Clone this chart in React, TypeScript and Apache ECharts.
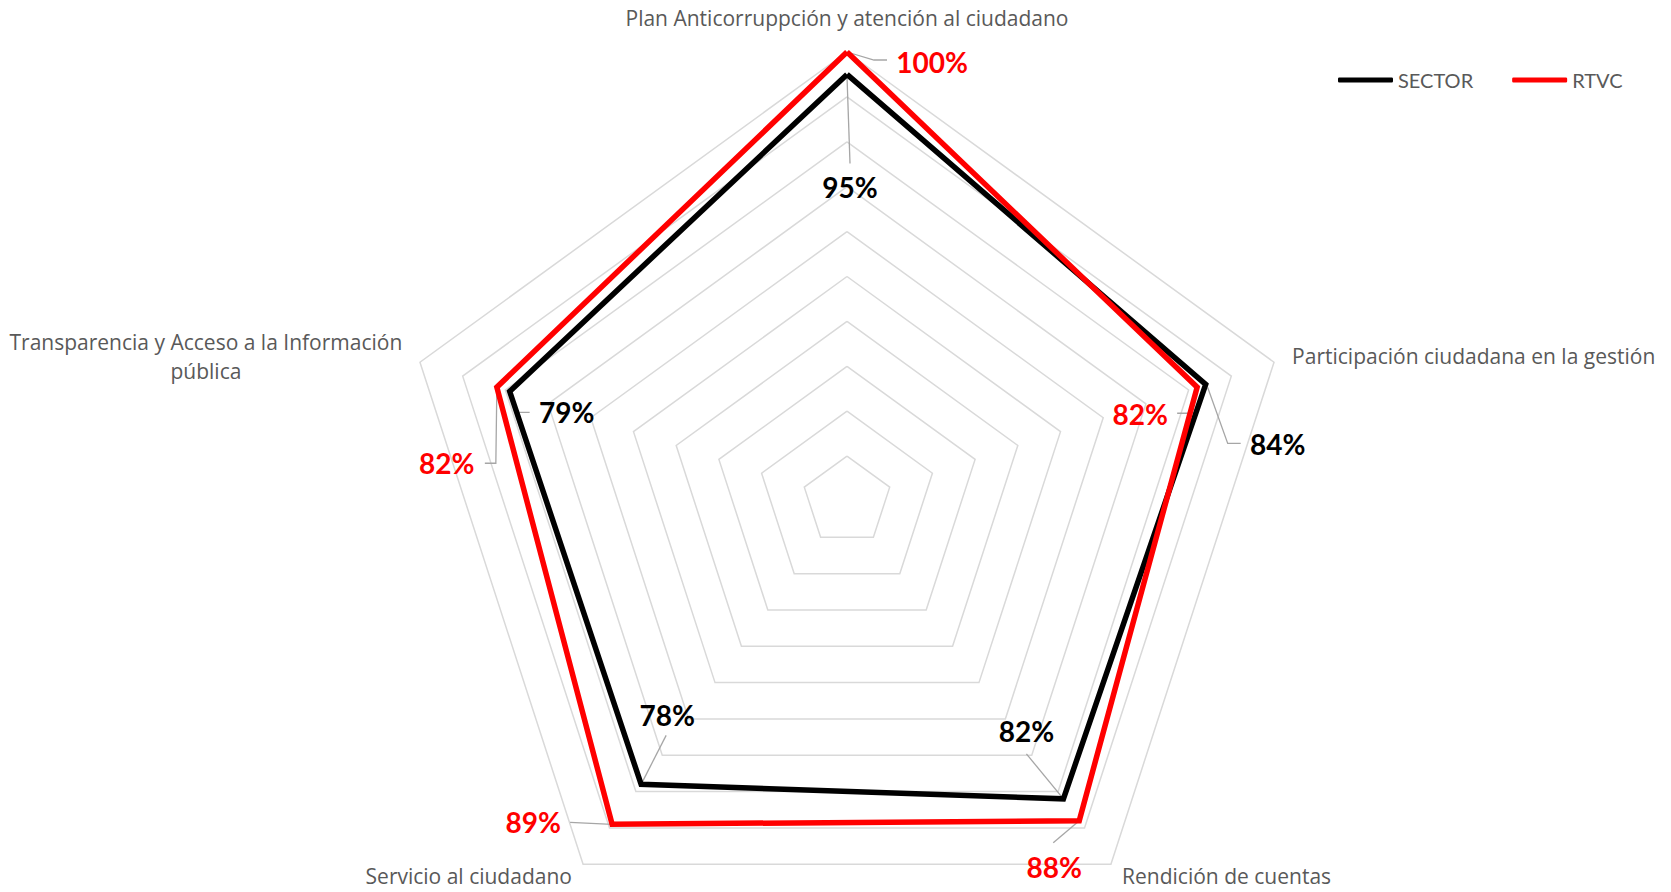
import React, { useEffect, useRef } from 'react';
import * as echarts from 'echarts';

// Indicators in ECharts radar order (counter-clockwise from the top)
const categories = [
  'Plan Anticorruppción y atención al ciudadano',
  'Transparencia y Acceso a la Información pública',
  'Servicio al ciudadano',
  'Rendición de cuentas',
  'Participación ciudadana en la gestión',
];
const sectorValues = [95, 79, 78, 82, 84];
const rtvcValues = [100, 82, 89, 88, 82];
const seriesNames = ['SECTOR', 'RTVC'];
const seriesColors = ['#000000', '#ff0000'];
const allValues = [sectorValues, rtvcValues];
const axisMax = 100;

// styling: label offsets (px from the data point) and leader-line shapes (px from the data point)
const labelOffsets = [
  [[3, 113], [57, 21], [26, -69], [-37, -68], [72, 60]],
  [[85, 10], [-50, 76], [-79, -2], [-25, 46], [-57, 27]],
];
const leaderPaths = [
  [
    [[0, 2], [3, 89]],
    [[2, 4], [8, 21], [20, 21]],
    [[0, 0], [25, -49]],
    [[0, 0], [-37, -45]],
    [[2, 3], [22, 59], [35, 59]],
  ],
  [
    [[0, 0], [27, 8], [40, 8]],
    [[0, 1], [-1, 76], [-12, 76]],
    [[0, 0], [-42, -2]],
    [[0, 0], [-26, 22]],
    [[0, 1], [-7, 26], [-20, 26]],
  ],
];

const CX = 847;
const CY = 501;
const R = 449;
const LABEL_FONT = 'Lato, "Open Sans", sans-serif';
const NAME_FONT = '"Open Sans", Lato, sans-serif';

export default function App() {
  const ref = useRef<HTMLDivElement>(null);
  useEffect(() => {
    if (!ref.current) return;
    const chart = echarts.init(ref.current, null, { renderer: 'svg' });
    const n = categories.length;

    const pointOf = (s: number, i: number) => {
      const ang = ((90 + (360 / n) * i) * Math.PI) / 180;
      const r = (allValues[s][i] / axisMax) * R;
      return [CX + r * Math.cos(ang), CY - r * Math.sin(ang)];
    };

    const leaders: any[] = [];
    allValues.forEach((_, s) => {
      for (let i = 0; i < n; i++) {
        const [px, py] = pointOf(s, i);
        leaders.push({
          type: 'polyline',
          silent: true,
          z: 1,
          shape: { points: leaderPaths[s][i].map(([dx, dy]) => [px + dx, py + dy]) },
          style: { stroke: '#a6a6a6', lineWidth: 1.3, fill: null },
        });
      }
    });

    const labelItems: any[] = [];
    allValues.forEach((vals, s) => {
      for (let i = 0; i < n; i++) {
        labelItems.push({
          name: seriesNames[s] + '-' + i,
          value: vals,
          label: { offset: labelOffsets[s][i], color: seriesColors[s] },
        });
      }
    });

    const nameStyle = { fontSize: 21, color: '#595959', fontFamily: NAME_FONT };

    chart.setOption({
      animation: false,
      backgroundColor: '#ffffff',
      legend: {
        data: seriesNames,
        left: 1338,
        top: 70,
        padding: 0,
        itemWidth: 55,
        itemHeight: 5,
        itemGap: 39,
        icon: 'roundRect',
        selectedMode: false,
        textStyle: { color: '#595959', fontSize: 20, fontFamily: LABEL_FONT },
      },
      radar: {
        center: [CX, CY],
        radius: R,
        startAngle: 90,
        splitNumber: 10,
        shape: 'polygon',
        nameGap: 19,
        indicator: categories.map((c) => ({ name: c, min: 0, max: axisMax })),
        axisName: {
          ...nameStyle,
          formatter: (name: string) => {
            if (name === categories[1]) {
              const k = name.lastIndexOf(' ');
              return '{w|' + name.slice(0, k) + '}\n{w|' + name.slice(k + 1) + '}';
            }
            if (name === categories[0]) return '{t|' + name + '}';
            if (name === categories[2] || name === categories[3]) return '{b|' + name + '}';
            return name;
          },
          rich: {
            w: { ...nameStyle, width: 392, align: 'center', lineHeight: 29 },
            t: { ...nameStyle, padding: [0, 0, 5, 0] },
            b: { ...nameStyle, lineHeight: 20, padding: [0, 0, 8, 0] },
          },
        },
        splitLine: { lineStyle: { color: '#d9d9d9', width: 1.5 } },
        splitArea: { show: false },
        axisLine: { show: false },
        axisTick: { show: false },
        axisLabel: { show: false },
      },
      graphic: leaders,
      series: [
        {
          type: 'radar',
          symbol: 'none',
          silent: true,
          z: 3,
          data: seriesNames.map((nm, s) => ({
            name: nm,
            value: allValues[s],
            lineStyle: { color: seriesColors[s], width: 5.5, join: 'miter' },
            itemStyle: { color: seriesColors[s] },
          })),
        },
        {
          type: 'radar',
          symbol: 'circle',
          symbolSize: 1,
          silent: true,
          z: 5,
          itemStyle: { color: 'rgba(0,0,0,0)' },
          lineStyle: { width: 0, opacity: 0 },
          label: {
            show: true,
            position: 'inside',
            fontFamily: LABEL_FONT,
            fontWeight: 'bold',
            fontSize: 28,
            formatter: (p: any) => (p.dimensionIndex === p.dataIndex % n ? p.value + '%' : ''),
          },
          data: labelItems,
        },
      ],
    });
    return () => chart.dispose();
  }, []);
  return <div ref={ref} style={{ position: 'fixed', left: 0, top: 0, width: 1671, height: 892 }} />;
}
